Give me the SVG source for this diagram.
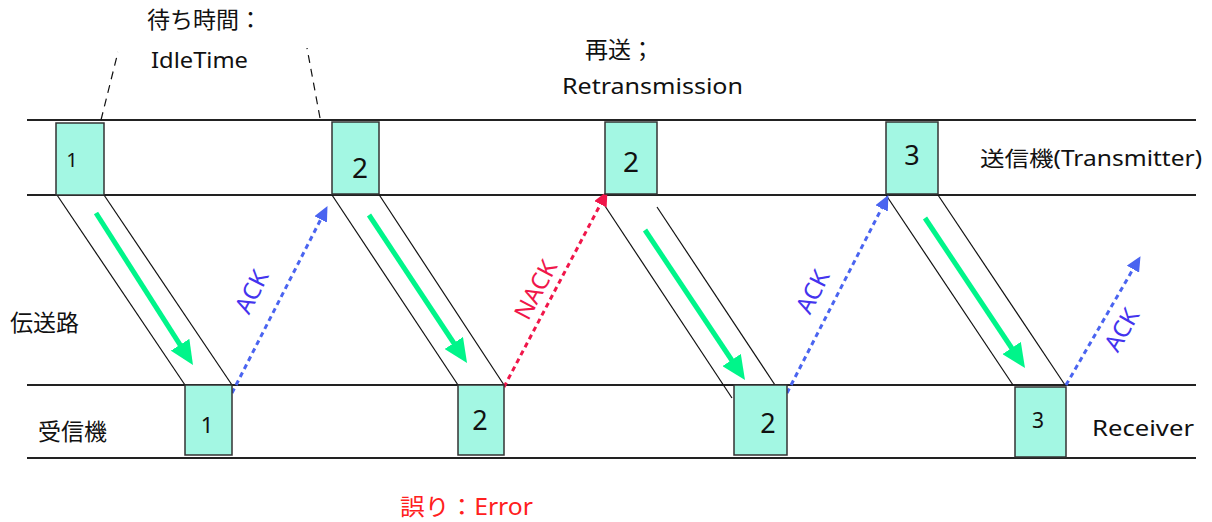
<svg xmlns="http://www.w3.org/2000/svg" width="1212" height="522" viewBox="0 0 1212 522">
<style>
.lane{stroke:#222;stroke-width:2;fill:none}
.box{fill:#a3f7e3;stroke:#333;stroke-width:1.5}
.diag{stroke:#111;stroke-width:1.2;fill:none}
.green{stroke:#00f58a;stroke-width:5;fill:none}
.ack{stroke:#4a64f0;stroke-width:3;stroke-dasharray:5 4;fill:none}
.nack{stroke:#f0164a;stroke-width:3;stroke-dasharray:5 4;fill:none}
.dash{stroke:#111;stroke-width:1.2;stroke-dasharray:8 6;fill:none}
text{font-family:"Noto Sans","Noto Sans CJK JP",sans-serif;fill:#111}
.num{text-anchor:middle}
.lbl{font-size:21px}
.cjk{font-size:23px}
.ackt{fill:#4433ee;font-size:24px;text-anchor:middle}
.nackt{fill:#f0164a;font-size:24px;text-anchor:middle}
</style>
<defs>
<marker id="mg" markerUnits="userSpaceOnUse" markerWidth="26" markerHeight="22" refX="6" refY="11" orient="auto"><path d="M0,0 L24,11 L0,22 z" fill="#00f58a"/></marker>
<marker id="mb" markerUnits="userSpaceOnUse" markerWidth="16" markerHeight="14" refX="4" refY="7" orient="auto"><path d="M0,0 L15,7 L0,14 z" fill="#4a64f0"/></marker>
<marker id="mr" markerUnits="userSpaceOnUse" markerWidth="16" markerHeight="14" refX="4" refY="7" orient="auto"><path d="M0,0 L15,7 L0,14 z" fill="#f0164a"/></marker>
</defs>

<g id="lanes">
<line class="lane" x1="27" y1="120" x2="1196" y2="120"/>
<line class="lane" x1="27" y1="195" x2="1196" y2="195"/>
<line class="lane" x1="27" y1="385" x2="1196" y2="385"/>
<line class="lane" x1="27" y1="458" x2="1196" y2="458"/>
</g>

<g id="connectors">
<line class="diag" x1="57" y1="195" x2="185" y2="385"/>
<line class="diag" x1="104" y1="195" x2="232" y2="385"/>
<line class="diag" x1="332" y1="195" x2="458" y2="385"/>
<line class="diag" x1="378" y1="193" x2="504" y2="385"/>
<line class="diag" x1="603" y1="203" x2="732" y2="398"/>
<line class="diag" x1="657" y1="207" x2="775" y2="385"/>
<line class="diag" x1="886" y1="195" x2="1013" y2="385"/>
<line class="diag" x1="938" y1="195" x2="1065" y2="385"/>
<line class="dash" x1="101" y1="120" x2="118" y2="52"/>
<line class="dash" x1="320" y1="118" x2="307" y2="48"/>
<line class="green" x1="96" y1="213" x2="183.3" y2="349.8" marker-end="url(#mg)"/>
<line class="green" x1="369" y1="215" x2="457.1" y2="348" marker-end="url(#mg)"/>
<line class="green" x1="645" y1="230" x2="735" y2="365" marker-end="url(#mg)"/>
<line class="green" x1="925" y1="218" x2="1015" y2="353" marker-end="url(#mg)"/>
<line class="ack" x1="232" y1="393" x2="322.5" y2="215.9" marker-end="url(#mb)"/>
<line class="nack" x1="504" y1="387" x2="602.3" y2="200.8" marker-end="url(#mr)"/>
<line class="ack" x1="787" y1="393" x2="883.4" y2="204.9" marker-end="url(#mb)"/>
<line class="ack" x1="1066" y1="385" x2="1135" y2="265.7" marker-end="url(#mb)"/>
<text class="ackt" transform="translate(252,292) rotate(-63)" dy="8">ACK</text>
<text class="nackt" transform="translate(536,290) rotate(-62)" dy="8">NACK</text>
<text class="ackt" transform="translate(813,292) rotate(-63)" dy="8">ACK</text>
<text class="ackt" transform="translate(1122,330) rotate(-60)" dy="8">ACK</text>
</g>

<g id="tx1"><rect class="box" x="56" y="123" width="48" height="72"/><text class="num" x="72" y="167" font-size="20">1</text></g>
<g id="tx2"><rect class="box" x="332" y="122" width="47" height="72"/><text class="num" x="360" y="178" font-size="28">2</text></g>
<g id="tx3"><rect class="box" x="605" y="122" width="52" height="72"/><text class="num" x="631" y="172" font-size="28">2</text></g>
<g id="tx4"><rect class="box" x="886" y="122" width="52" height="72"/><text class="num" x="912" y="165" font-size="27">3</text></g>

<g id="rx1"><rect class="box" x="185" y="385" width="47" height="70"/><text class="num" x="207" y="433" font-size="22">1</text></g>
<g id="rx2"><rect class="box" x="458" y="385" width="46" height="70"/><text class="num" x="480" y="430" font-size="27">2</text></g>
<g id="rx3"><rect class="box" x="734" y="385" width="53" height="70"/><text class="num" x="768" y="433" font-size="27">2</text></g>
<g id="rx4"><rect class="box" x="1015" y="387" width="51" height="70"/><text class="num" x="1038" y="428" font-size="21">3</text></g>

<g id="labels">
<text class="cjk" x="147" y="28">待ち時間：</text>
<text class="lbl" x="151" y="68" textLength="97" lengthAdjust="spacingAndGlyphs">IdleTime</text>
<text class="cjk" x="585" y="58">再送；</text>
<text class="lbl" x="562" y="94" textLength="181" lengthAdjust="spacingAndGlyphs">Retransmission</text>
<text class="lbl" x="980" y="166" textLength="222" lengthAdjust="spacingAndGlyphs">送信機(Transmitter)</text>
<text class="cjk" x="10" y="331">伝送路</text>
<text class="cjk" x="38" y="440">受信機</text>
<text class="lbl" x="1092" y="436" textLength="102" lengthAdjust="spacingAndGlyphs">Receiver</text>
<text class="cjk" x="400" y="515" textLength="133" lengthAdjust="spacingAndGlyphs" style="fill:#ff2020">誤り：Error</text>
</g>
</svg>
